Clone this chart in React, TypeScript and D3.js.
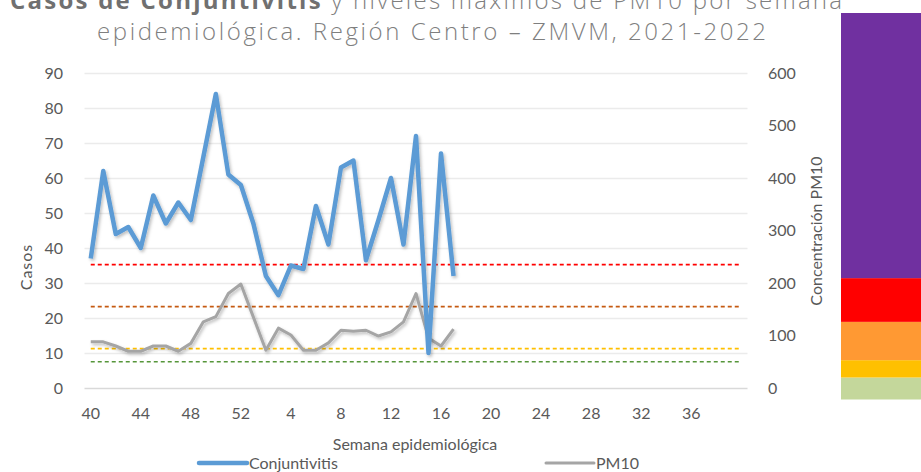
import { useEffect, useRef } from "react";
import {
  select,
  scaleBand,
  scaleLinear,
  axisLeft,
  axisRight,
  axisBottom,
  line,
  stack,
} from "d3";

const width = 921;
const height = 472;

// semanas epidemiológicas 2021 (40-52) y 2022 (1-40)
const weeks = [
  40, 41, 42, 43, 44, 45, 46, 47, 48, 49, 50, 51, 52,
  1, 2, 3, 4, 5, 6, 7, 8, 9, 10, 11, 12, 13, 14, 15, 16, 17, 18, 19, 20,
  21, 22, 23, 24, 25, 26, 27, 28, 29, 30, 31, 32, 33, 34, 35, 36, 37, 38, 39, 40,
];
const weekTicks = [40, 44, 48, 52, 4, 8, 12, 16, 20, 24, 28, 32, 36];

const conjuntivitis = [
  37, 62, 44, 46, 40, 55, 47, 53, 48, 66, 84, 61, 58, 47, 32, 26.5, 35, 34, 52,
  41, 63, 65, 36.5, 48, 60, 41, 72, 10, 67, 32,
];
const pm10 = [
  88, 88, 80, 70, 70, 80, 80, 70, 85, 126, 136, 180, 198, 135, 72, 114, 101, 72,
  72, 86, 110, 108, 110, 99, 107, 126, 180, 95, 80, 112,
];

const casosTicks = [0, 10, 20, 30, 40, 50, 60, 70, 80, 90];
const pm10Ticks = [0, 100, 200, 300, 400, 500, 600];

// umbrales de calidad del aire PM10
const thresholdValues = [235, 155, 75, 50];
const thresholdColors = ["#FF0000", "#C55A11", "#FFC000", "#56963A"];

// franja de colores (proporciones, de abajo hacia arriba)
const levelNames = ["buena", "aceptable", "mala", "muyMala", "extrema"];
const levelShares = [22, 17.3, 38.3, 43.7, 265];
const levelColors = ["#C4D79B", "#FFC000", "#FF9933", "#FF0000", "#7030A0"];

const plot = { left: 84.5, right: 747.5, top: 73, bottom: 388 };
const fontAxis = "Lato, 'Open Sans', sans-serif";
const textColor = "#595959";

const App = () => {
  const svgRef = useRef<SVGSVGElement | null>(null);

  useEffect(() => {
    document.body.style.margin = "0";
    document.body.style.overflow = "hidden";

    const svg = select(svgRef.current);
    svg.selectAll("*").remove();

    const x = scaleBand<number>()
      .domain(weeks.map((_, i) => i))
      .range([plot.left, plot.right]);
    const cx = (i: number) => (x(i) as number) + x.bandwidth() / 2;
    const yLeft = scaleLinear().domain([0, 90]).range([plot.bottom, plot.top]);
    const yRight = scaleLinear().domain([0, 600]).range([plot.bottom, plot.top]);

    const defs = svg.append("defs");
    defs
      .append("filter")
      .attr("id", "shadow")
      .attr("x", "-10%")
      .attr("y", "-10%")
      .attr("width", "120%")
      .attr("height", "120%")
      .append("feDropShadow")
      .attr("dx", 1.5)
      .attr("dy", 2)
      .attr("stdDeviation", 1.5)
      .attr("flood-color", "#000")
      .attr("flood-opacity", 0.25);

    // franja de colores a la derecha
    const levelRow: Record<string, number> = {};
    levelNames.forEach((n, i) => (levelRow[n] = levelShares[i]));
    const levels = stack<Record<string, number>>().keys(levelNames)([levelRow]);
    const total = levelShares.reduce((a, b) => a + b, 0);
    const yLevel = scaleLinear().domain([0, total]).range([399.5, 13]);
    svg
      .append("g")
      .selectAll("rect")
      .data(levels)
      .join("rect")
      .attr("x", 841)
      .attr("width", 90)
      .attr("y", (s) => yLevel(s[0][1]))
      .attr("height", (s) => yLevel(s[0][0]) - yLevel(s[0][1]))
      .attr("fill", (s, i) => levelColors[i]);

    // cuadrícula
    svg
      .append("g")
      .attr("transform", `translate(${plot.left},0)`)
      .call(
        axisLeft(yLeft)
          .tickValues(casosTicks)
          .tickSize(-(plot.right - plot.left))
          .tickFormat(() => "")
      )
      .call((g) => g.select(".domain").remove())
      .call((g) =>
        g
          .selectAll(".tick line")
          .attr("stroke", (d) => (d === 0 ? "#D9D9D9" : "#EBEBEB"))
          .attr("stroke-width", 1.3)
      );

    // eje izquierdo
    svg
      .append("g")
      .attr("transform", `translate(${plot.left},0)`)
      .call(axisLeft(yLeft).tickValues(casosTicks).tickSize(0).tickPadding(21.5))
      .call((g) => g.select(".domain").remove())
      .call((g) =>
        g
          .selectAll("text")
          .attr("font-family", fontAxis)
          .attr("font-size", 16)
          .attr("fill", textColor)
      );

    // eje derecho
    svg
      .append("g")
      .attr("transform", `translate(${plot.right},0)`)
      .call(axisRight(yRight).tickValues(pm10Ticks).tickSize(0).tickPadding(20.5))
      .call((g) => g.select(".domain").remove())
      .call((g) =>
        g
          .selectAll("text")
          .attr("font-family", fontAxis)
          .attr("font-size", 16)
          .attr("fill", textColor)
      );

    // eje inferior
    const tickIdx = weeks
      .map((w, i) => i)
      .filter((i) => i < 52 && i % 4 === 0 && weekTicks.includes(weeks[i]));
    svg
      .append("g")
      .attr("transform", `translate(0,${plot.bottom})`)
      .call(
        axisBottom(x)
          .tickValues(tickIdx)
          .tickSize(0)
          .tickFormat((i) => String(weeks[i as number]))
      )
      .call((g) => g.select(".domain").remove())
      .call((g) =>
        g
          .selectAll("text")
          .attr("y", 31)
          .attr("dy", 0)
          .attr("font-family", fontAxis)
          .attr("font-size", 16)
          .attr("fill", textColor)
      );

    // líneas de umbral
    svg
      .append("g")
      .selectAll("line")
      .data(thresholdValues)
      .join("line")
      .attr("x1", cx(0))
      .attr("x2", cx(weeks.length - 1))
      .attr("y1", (d) => yRight(d))
      .attr("y2", (d) => yRight(d))
      .attr("stroke", (d, i) => thresholdColors[i])
      .attr("stroke-width", 1.6)
      .attr("stroke-dasharray", "4 3");

    // series
    const pmLine = line<number>()
      .x((d, i) => cx(i))
      .y((d) => yRight(d));
    const casosLine = line<number>()
      .x((d, i) => cx(i))
      .y((d) => yLeft(d));

    svg
      .append("path")
      .attr("d", pmLine(pm10))
      .attr("fill", "none")
      .attr("stroke", "#A5A5A5")
      .attr("stroke-width", 3)
      .attr("stroke-linejoin", "round")
      .attr("filter", "url(#shadow)");

    svg
      .append("path")
      .attr("d", casosLine(conjuntivitis))
      .attr("fill", "none")
      .attr("stroke", "#5B9BD5")
      .attr("stroke-width", 4.5)
      .attr("stroke-linejoin", "round")
      .attr("filter", "url(#shadow)");

    // títulos de ejes
    svg
      .append("text")
      .attr("transform", "translate(32,267) rotate(-90)")
      .attr("text-anchor", "middle")
      .attr("font-family", fontAxis)
      .attr("font-size", 16)
      .attr("letter-spacing", 1)
      .attr("fill", textColor)
      .text("Casos");

    svg
      .append("text")
      .attr("transform", "translate(822,231) rotate(-90)")
      .attr("text-anchor", "middle")
      .attr("font-family", fontAxis)
      .attr("font-size", 16)
      .attr("fill", textColor)
      .text("Concentración PM10");

    svg
      .append("text")
      .attr("x", 415)
      .attr("y", 450)
      .attr("text-anchor", "middle")
      .attr("font-family", fontAxis)
      .attr("font-size", 16)
      .attr("fill", textColor)
      .text("Semana epidemiológica");

    // leyenda
    const legend = [
      { name: "Conjuntivitis", color: "#5B9BD5", w: 4.5, x: 199 },
      { name: "PM10", color: "#A5A5A5", w: 3, x: 546 },
    ];
    const lg = svg.append("g").selectAll("g").data(legend).join("g");
    lg.append("line")
      .attr("x1", (d) => d.x)
      .attr("x2", (d) => d.x + 48)
      .attr("y1", 463)
      .attr("y2", 463)
      .attr("stroke", (d) => d.color)
      .attr("stroke-width", (d) => d.w)
      .attr("stroke-linecap", "round");
    lg.append("text")
      .attr("x", (d) => d.x + 50)
      .attr("y", 469)
      .attr("font-family", fontAxis)
      .attr("font-size", 16)
      .attr("fill", textColor)
      .text((d) => d.name);

    // título (la primera línea queda cortada arriba, como en el original)
    const title = svg
      .append("g")
      .attr("font-family", "'Open Sans', sans-serif")
      .attr("font-size", 24)
      .attr("fill", "#7F7F7F");
    const t1 = title
      .append("text")
      .attr("x", 10)
      .attr("y", 9)
      .attr("textLength", 832)
      .attr("lengthAdjust", "spacing")
      .attr("font-weight", 300);
    t1.append("tspan")
      .attr("font-weight", 700)
      .attr("fill", "#707070")
      .text("Casos de Conjuntivitis");
    t1.append("tspan").text(" y niveles máximos de PM10 por semana");
    title
      .append("text")
      .attr("x", 97)
      .attr("y", 40)
      .attr("textLength", 669)
      .attr("lengthAdjust", "spacing")
      .attr("font-weight", 300)
      .text("epidemiológica. Región Centro – ZMVM, 2021-2022");
  }, []);

  return (
    <svg
      ref={svgRef}
      width={width}
      height={height}
      style={{ display: "block", background: "#fff" }}
    />
  );
};

export default App;
